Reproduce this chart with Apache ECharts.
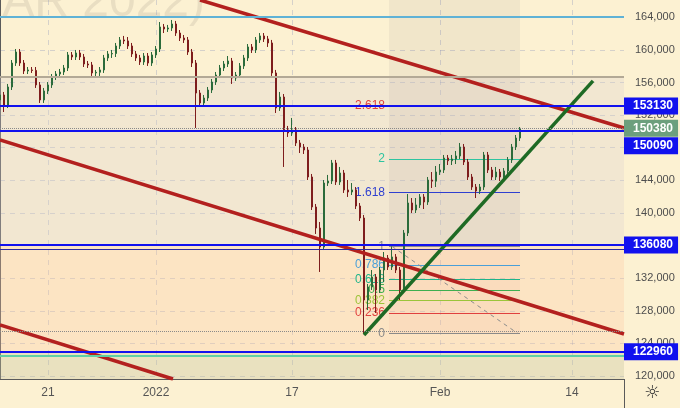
<!DOCTYPE html>
<html>
<head>
<meta charset="utf-8">
<script src="https://cdn.jsdelivr.net/npm/echarts@6/dist/echarts.min.js"></script>
<style>
html,body{margin:0;padding:0;background:#fcf1d2;}
#c{width:680px;height:408px;}
</style>
</head>
<body>
<div id="c"></div>
<script>
// ---- data ----
const slotCount = 157;
const tickSlots = [12, 39, 73, 110, 143];
const tickLabels = ['21', '2022', '17', 'Feb', '14'];
const yTicks = [120000,124000,128000,132000,136000,140000,144000,148000,152000,156000,160000,164000];
const yMin = 119630, yMax = 166120;

const firstOpen = 153860;
const closes = [
154470,153240,155450,158390,159740,158390,157410,157540,157480,155700,
153860,154960,155700,156680,157040,157290,157780,159380,159130,159620,
159130,158270,158150,157170,157260,157540,159010,159500,159560,160480,
161220,161100,160480,159500,159010,158520,159250,158390,159380,160110,
162810,162560,162690,163180,162070,161460,161220,159740,158390,154710,
153490,154100,155080,156060,156920,157780,158270,158640,156550,156920,
158030,159010,160360,159990,161220,161710,161340,160850,157170,152870,
154220,150180,149810,150180,148580,148090,147720,144410,140730,138150,
135820,143670,143920,146130,143800,144900,142820,142570,142820,140850,
139380,129320,130920,132140,130550,133000,134470,133370,134600,133000,
130550,137540,141220,140360,140980,141960,141340,144040,143900,145020,
145270,146740,146400,146620,146990,148090,146250,144410,143180,142690,
143180,147110,145270,144410,145020,144410,145150,146500,148090,149190,
150380];
const highs = [
154840,154840,155820,158760,160110,160110,158760,157900,157900,157900,
156060,155330,156060,157040,157410,157660,158150,159740,159740,159990,
159990,159500,158640,158520,157540,157900,159380,159870,159990,160850,
161580,161710,161580,160850,159870,159380,159620,159620,159740,160480,
163420,163180,163060,163670,163550,162440,161830,161580,160110,158760,
155080,154470,155450,156430,157290,158150,158640,159250,159010,157290,
158390,159380,160720,160720,161580,162070,162070,161710,161220,157540,
154840,154590,150670,151650,150540,148950,148460,148090,144780,141100,
138890,144040,144660,146500,146500,145640,145270,144040,143670,143180,
141220,139750,131280,133000,132510,133370,135210,134840,135900,134960,
133370,137910,142320,141830,141830,142320,142320,144410,145020,145760,
146000,147110,147110,147110,147600,148580,148460,146620,144780,143550,
143550,147480,147480,145640,145640,145390,145510,146860,148460,149560,
150540];
const lows = [
153490,152380,152870,155080,158030,158030,157040,157040,157170,155330,
153490,153490,154590,155330,156310,156680,156920,157410,158760,158760,
158760,157900,157780,156800,156680,156800,157170,158640,159010,159130,
160110,160720,160110,159130,158640,158150,158150,158030,158030,159010,
159740,162070,162200,162320,161710,161090,160850,159380,157900,150420,
153000,153120,153730,154710,155700,156550,157410,157900,155820,156190,
156550,157660,158640,159620,159620,160850,160970,160360,156800,152260,
152510,145640,149320,149440,148210,147350,147230,144040,140360,137420,
132760,135450,143310,143550,143430,143430,142450,141960,142200,140480,
139010,125200,128090,130550,127730,130180,131530,133000,133000,132630,
129320,130180,137170,139990,139990,140610,140480,140980,143060,143180,
144660,144900,145880,145880,146000,146620,145880,144040,142820,141830,
142320,142820,144900,144040,144040,143920,144040,144780,146130,147720,
148830];

// trend lines (x in bar slots, y in price)
const redUpper = [[50, 166120], [156, 150420]];
const redMiddle = [[0, 148950], [156, 125150]];
const redLower = [[0, 126250], [43.25, 119630]];
const greenTrend = [[91, 125030], [148.25, 156190]];
const fibTrend = [[98, 135900], [129.5, 125200]];

// fibonacci tool
const fibLow = 125200, fibHigh = 135900;
const fibStart = 97.25, fibEnd = 130;
const fibLevels = [0, 0.236, 0.382, 0.5, 0.618, 0.786, 1, 1.618, 2, 2.618];
const fibNames = ['0', '0.236', '0.382', '0.5', '0.618', '0.786', '1', '1.618', '2', '2.618'];
const fibColors = ['#8a8a8a', '#e0413f', '#9cc43a', '#3fae4f', '#1fb48a', '#4a9fd8', '#8a8a8a', '#2f3fd0', '#2ec4a0', '#e0413f'];

// horizontal levels
const lightBlueLevel = 164120;
const grayLevel = 156700;
const tagLevels = [153130, 150090, 136080, 122960];
const thinBlueLevel = 135580;
const greenLevel = 122510;
const dottedLevel = 125520;

// background zones [from, to]
const zoneMid = [136080, 156700];
const zonePeach = [122960, 136080];
const zoneLow = [yMin, 122960];

// ---- build ----
const categories = [];
for (let i = 0; i < slotCount; i++) categories.push(String(i));
const candleData = [];
for (let i = 0; i < slotCount; i++) {
  if (i < closes.length) {
    const o = i === 0 ? firstOpen : closes[i - 1];
    candleData.push([o, closes[i], lows[i], highs[i]]);
  } else candleData.push('-');
}
const lastClose = closes[closes.length - 1];
const FONT = 'Liberation Sans';
const BLUE = '#1111ee';

function tag(bg, off) {
  return {
    show: true, position: 'end', distance: 0,
    formatter: p => String(p.value),
    color: '#ffffff', fontWeight: 'bold', fontSize: 12, fontFamily: FONT,
    backgroundColor: bg, padding: [3, 5, 2, 9], lineHeight: 12,
    offset: off || [0, 0]
  };
}

const fibLines = fibLevels.map((lv, k) => {
  const v = fibLow + lv * (fibHigh - fibLow);
  return [
    { coord: [fibStart, v], lineStyle: { color: fibColors[k], width: 1.2, type: 'solid' },
      label: { show: true, position: 'start', distance: 4, formatter: fibNames[k], color: fibColors[k], fontSize: 12, fontFamily: FONT } },
    { coord: [fibEnd, v] }
  ];
});

function trend(data, color) {
  return { type: 'line', xAxisIndex: 1, yAxisIndex: 0, data: data, symbol: 'none', silent: true,
    lineStyle: { color: color, width: 3.5 }, z: 3, animation: false };
}

const chart = echarts.init(document.getElementById('c'), null, { renderer: 'canvas' });
chart.setOption({
  animation: false,
  backgroundColor: '#fcf1d2',
  textStyle: { fontFamily: FONT },
  grid: { left: 0, right: 56, top: 0, bottom: 29 },
  xAxis: [
    { type: 'category', data: categories, boundaryGap: false,
      axisLine: { lineStyle: { color: '#5a5a5a' } }, axisTick: { show: false },
      axisLabel: { interval: (i) => tickSlots.includes(i), margin: 8, color: '#555', fontSize: 12,
        formatter: (v, i) => { const k = tickSlots.indexOf(Number(v)); return k >= 0 ? tickLabels[k] : ''; } },
      splitLine: { show: true, interval: (i) => tickSlots.includes(i), lineStyle: { color: 'rgba(140,150,190,0.35)', type: [5, 5] } }
    },
    { type: 'value', min: 0, max: slotCount - 1, show: false }
  ],
  yAxis: [{
    type: 'value', position: 'right', min: yMin, max: yMax, scale: true,
    axisLine: { show: true, lineStyle: { color: '#5a5a5a' } },
    axisTick: { show: false, customValues: yTicks },
    axisLabel: { customValues: yTicks, margin: 11, color: '#4d4d4d', fontSize: 11 },
    splitLine: { show: true, lineStyle: { color: 'rgba(140,150,190,0.35)', type: [5, 5] } }
  }],
  graphic: [
    { type: 'text', x: 205, y: 27, z: -1, silent: true,
      style: { text: '(MAR 2022)', font: '48px "Liberation Sans"', fill: 'rgba(110,100,90,0.13)', textAlign: 'right', textVerticalAlign: 'bottom' } },
    { type: 'text', x: 652, y: 393, silent: true,
      style: { text: '\u263C', font: '18px "DejaVu Sans"', fill: '#333', textAlign: 'center', textVerticalAlign: 'middle' } },
    { type: 'line', silent: true, shape: { x1: 624.5, y1: 379, x2: 624.5, y2: 408 }, style: { stroke: '#5a5a5a', lineWidth: 1 } }
  ],
  series: [
    { // background zones
      type: 'line', xAxisIndex: 1, data: [], silent: true,
      markArea: { silent: true, data: [
        [{ yAxis: zoneMid[0], itemStyle: { color: 'rgba(219,208,207,0.3)' } }, { yAxis: zoneMid[1] }],
        [{ yAxis: zonePeach[0], itemStyle: { color: 'rgba(252,198,163,0.3)' } }, { yAxis: zonePeach[1] }],
        [{ yAxis: zoneLow[0], itemStyle: { color: 'rgba(199,194,157,0.35)' } }, { yAxis: zoneLow[1] }]
      ] }
    },
    { // fib tool
      type: 'line', xAxisIndex: 1, data: fibTrend, symbol: 'none', silent: true, z: 1,
      lineStyle: { color: '#8c8c8c', width: 1, type: [4, 4] },
      markArea: { silent: true, data: [
        [{ coord: [fibStart, fibHigh], itemStyle: { color: 'rgba(110,100,110,0.08)' } }, { coord: [fibEnd, yMax] }],
        [{ coord: [fibStart, fibLow], itemStyle: { color: 'rgba(230,130,110,0.07)' } }, { coord: [fibEnd, fibHigh] }]
      ] },
      markLine: { silent: true, symbol: ['none', 'none'], z: 1, data: fibLines }
    },
    { // candles
      type: 'candlestick', xAxisIndex: 0, data: candleData, barWidth: 2, z: 2,
      itemStyle: { color: '#2b6b3b', color0: '#7e1d1d', borderColor: '#2b6b3b', borderColor0: '#7e1d1d', borderWidth: 1 }
    },
    trend(redUpper, '#b3201e'),
    trend(redMiddle, '#b3201e'),
    trend(redLower, '#b3201e'),
    trend(greenTrend, '#1e6a24'),
    { // horizontal levels + price tags
      type: 'line', xAxisIndex: 1, data: [], silent: true,
      markLine: { silent: true, symbol: ['none', 'none'], z: 5, data: [
        { yAxis: lightBlueLevel, lineStyle: { color: '#5fb2d6', width: 2, type: 'solid' }, label: { show: false } },
        { yAxis: grayLevel, lineStyle: { color: '#b3a996', width: 2, type: 'solid' }, label: { show: false } },
        { yAxis: dottedLevel, lineStyle: { color: '#8a8a8a', width: 1, type: 'dotted' }, label: { show: false } },
        { yAxis: thinBlueLevel, lineStyle: { color: '#2a2aa0', width: 1, type: 'solid' }, label: { show: false } },
        { yAxis: greenLevel, lineStyle: { color: '#5fd0a6', width: 2, type: 'solid' }, label: { show: false } },
        { yAxis: tagLevels[0], lineStyle: { color: BLUE, width: 2, type: 'solid' }, label: tag(BLUE) },
        { yAxis: tagLevels[2], lineStyle: { color: BLUE, width: 2, type: 'solid' }, label: tag(BLUE) },
        { yAxis: tagLevels[3], lineStyle: { color: BLUE, width: 2, type: 'solid' }, label: tag(BLUE) },
        { yAxis: tagLevels[1], lineStyle: { color: BLUE, width: 2, type: 'solid' }, label: tag(BLUE, [0, 15]) },
        { yAxis: lastClose, lineStyle: { color: '#8a8a8a', width: 1, type: 'dotted' }, label: tag('#6c9f7d') }
      ] }
    }
  ]
});
</script>
</body>
</html>
